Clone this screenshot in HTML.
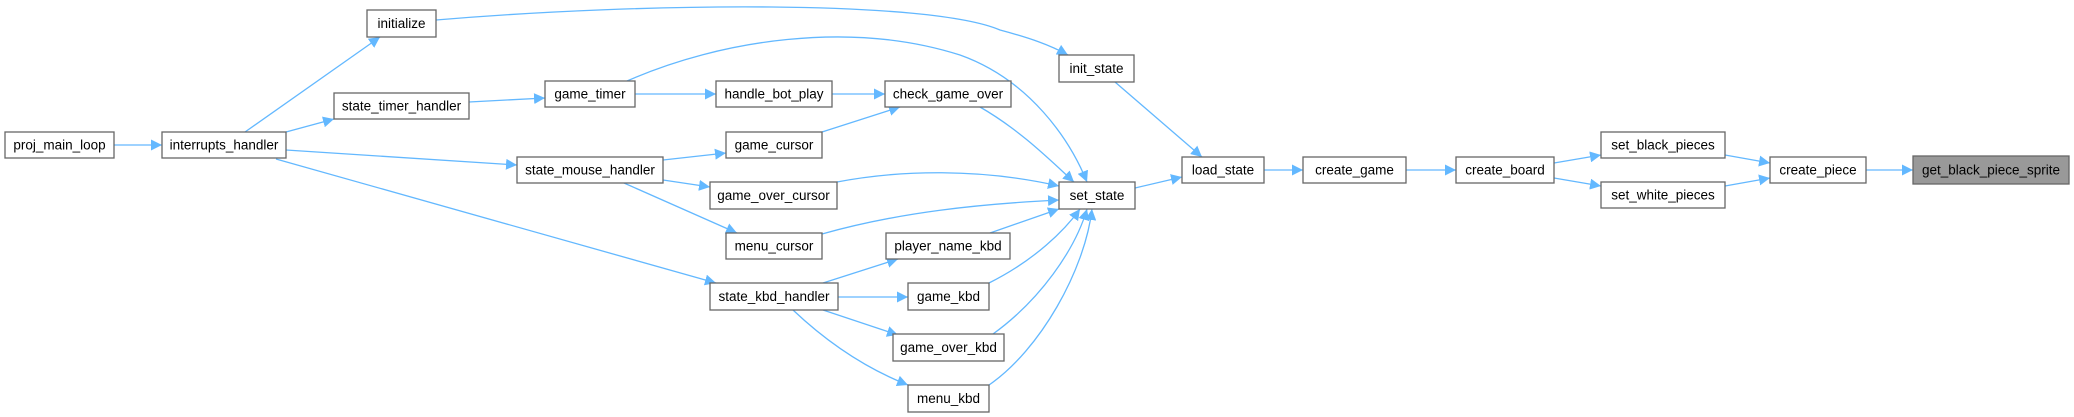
<!DOCTYPE html>
<html><head><meta charset="utf-8"><style>
html,body{margin:0;padding:0;background:#fff;}
svg{display:block}
text{font-family:"Liberation Sans",Arial,sans-serif;font-size:13.5px;fill:#000;text-anchor:middle;dominant-baseline:central}
.e{fill:none;stroke:#63b8ff;stroke-width:1.3}
.n{fill:#fff;stroke:#666;stroke-width:1.3}
</style></head><body>
<svg width="2074" height="417" viewBox="0 0 2074 417" xmlns="http://www.w3.org/2000/svg">
<defs><marker id="a" viewBox="0 0 10 10" refX="10" refY="5" markerWidth="11" markerHeight="11" markerUnits="userSpaceOnUse" orient="auto"><path d="M0,0 L10,5 L0,10 z" fill="#63b8ff"/></marker></defs>
<g class="e" marker-end="url(#a)">
<path d="M114,145 L162,145"/>
<path d="M245,132 L380,37"/>
<path d="M286,132 L334,119"/>
<path d="M286,150 L517,165"/>
<path d="M276,159 L716,283"/>
<path d="M436,20 C650,2 930,0 1000,30 C1030,38 1050,45 1068,55"/>
<path d="M469,102 L545,98"/>
<path d="M635,94 L716,94"/>
<path d="M627,81 C720,40 850,20 960,55 C1030,80 1070,140 1087,182"/>
<path d="M832,94 L885,94"/>
<path d="M980,107 C1020,130 1050,160 1074,182"/>
<path d="M663,160 L726,153"/>
<path d="M663,180 L710,187"/>
<path d="M624,183 L737,233"/>
<path d="M822,132 L900,107"/>
<path d="M837,182 C900,170 980,168 1059,186"/>
<path d="M822,234 C900,212 980,204 1059,200"/>
<path d="M823,283 L898,259"/>
<path d="M838,297 L908,297"/>
<path d="M823,310 L898,335"/>
<path d="M793,310 C830,345 870,370 908,385"/>
<path d="M990,233 L1059,209"/>
<path d="M989,283 C1035,260 1065,230 1080,209"/>
<path d="M993,334 C1040,300 1075,250 1087,209"/>
<path d="M989,385 C1040,350 1085,270 1092,209"/>
<path d="M1115,82 L1202,157"/>
<path d="M1135,188 L1182,177"/>
<path d="M1264,170 L1303,170"/>
<path d="M1406,170 L1456,170"/>
<path d="M1554,163 L1601,155"/>
<path d="M1554,178 L1601,186"/>
<path d="M1725,155 L1770,163"/>
<path d="M1725,186 L1770,178"/>
<path d="M1866,170 L1913,170"/>
</g>
<g>
<rect class="n" x="5" y="132" width="109" height="26"/><text x="59.5" y="145">proj_main_loop</text>
<rect class="n" x="162" y="132" width="124" height="26"/><text x="224" y="145">interrupts_handler</text>
<rect class="n" x="367" y="10" width="69" height="27"/><text x="401.5" y="23.5">initialize</text>
<rect class="n" x="334" y="93" width="135" height="26"/><text x="401.5" y="106">state_timer_handler</text>
<rect class="n" x="545" y="81" width="90" height="26"/><text x="590" y="94">game_timer</text>
<rect class="n" x="517" y="157" width="146" height="26"/><text x="590" y="170">state_mouse_handler</text>
<rect class="n" x="716" y="81" width="116" height="26"/><text x="774" y="94">handle_bot_play</text>
<rect class="n" x="885" y="81" width="126" height="26"/><text x="948" y="94">check_game_over</text>
<rect class="n" x="726" y="132" width="96" height="26"/><text x="774" y="145">game_cursor</text>
<rect class="n" x="710" y="182" width="127" height="27"/><text x="773.5" y="195.5">game_over_cursor</text>
<rect class="n" x="726" y="233" width="96" height="26"/><text x="774" y="246">menu_cursor</text>
<rect class="n" x="710" y="283" width="128" height="27"/><text x="774" y="296.5">state_kbd_handler</text>
<rect class="n" x="886" y="233" width="124" height="26"/><text x="948" y="246">player_name_kbd</text>
<rect class="n" x="908" y="283" width="81" height="27"/><text x="948.5" y="296.5">game_kbd</text>
<rect class="n" x="893" y="334" width="111" height="27"/><text x="948.5" y="347.5">game_over_kbd</text>
<rect class="n" x="908" y="385" width="81" height="27"/><text x="948.5" y="398.5">menu_kbd</text>
<rect class="n" x="1059" y="55" width="75" height="27"/><text x="1096.5" y="68.5">init_state</text>
<rect class="n" x="1059" y="182" width="76" height="27"/><text x="1097" y="195.5">set_state</text>
<rect class="n" x="1182" y="157" width="82" height="26"/><text x="1223" y="170">load_state</text>
<rect class="n" x="1303" y="157" width="103" height="26"/><text x="1354.5" y="170">create_game</text>
<rect class="n" x="1456" y="157" width="98" height="26"/><text x="1505" y="170">create_board</text>
<rect class="n" x="1601" y="132" width="124" height="26"/><text x="1663" y="145">set_black_pieces</text>
<rect class="n" x="1601" y="182" width="124" height="26"/><text x="1663" y="195">set_white_pieces</text>
<rect class="n" x="1770" y="157" width="96" height="26"/><text x="1818" y="170">create_piece</text>
<rect x="1913" y="156" width="156" height="28" fill="#999" stroke="#666" stroke-width="1.3"/><text x="1991" y="170">get_black_piece_sprite</text>
</g>
</svg>
</body></html>
